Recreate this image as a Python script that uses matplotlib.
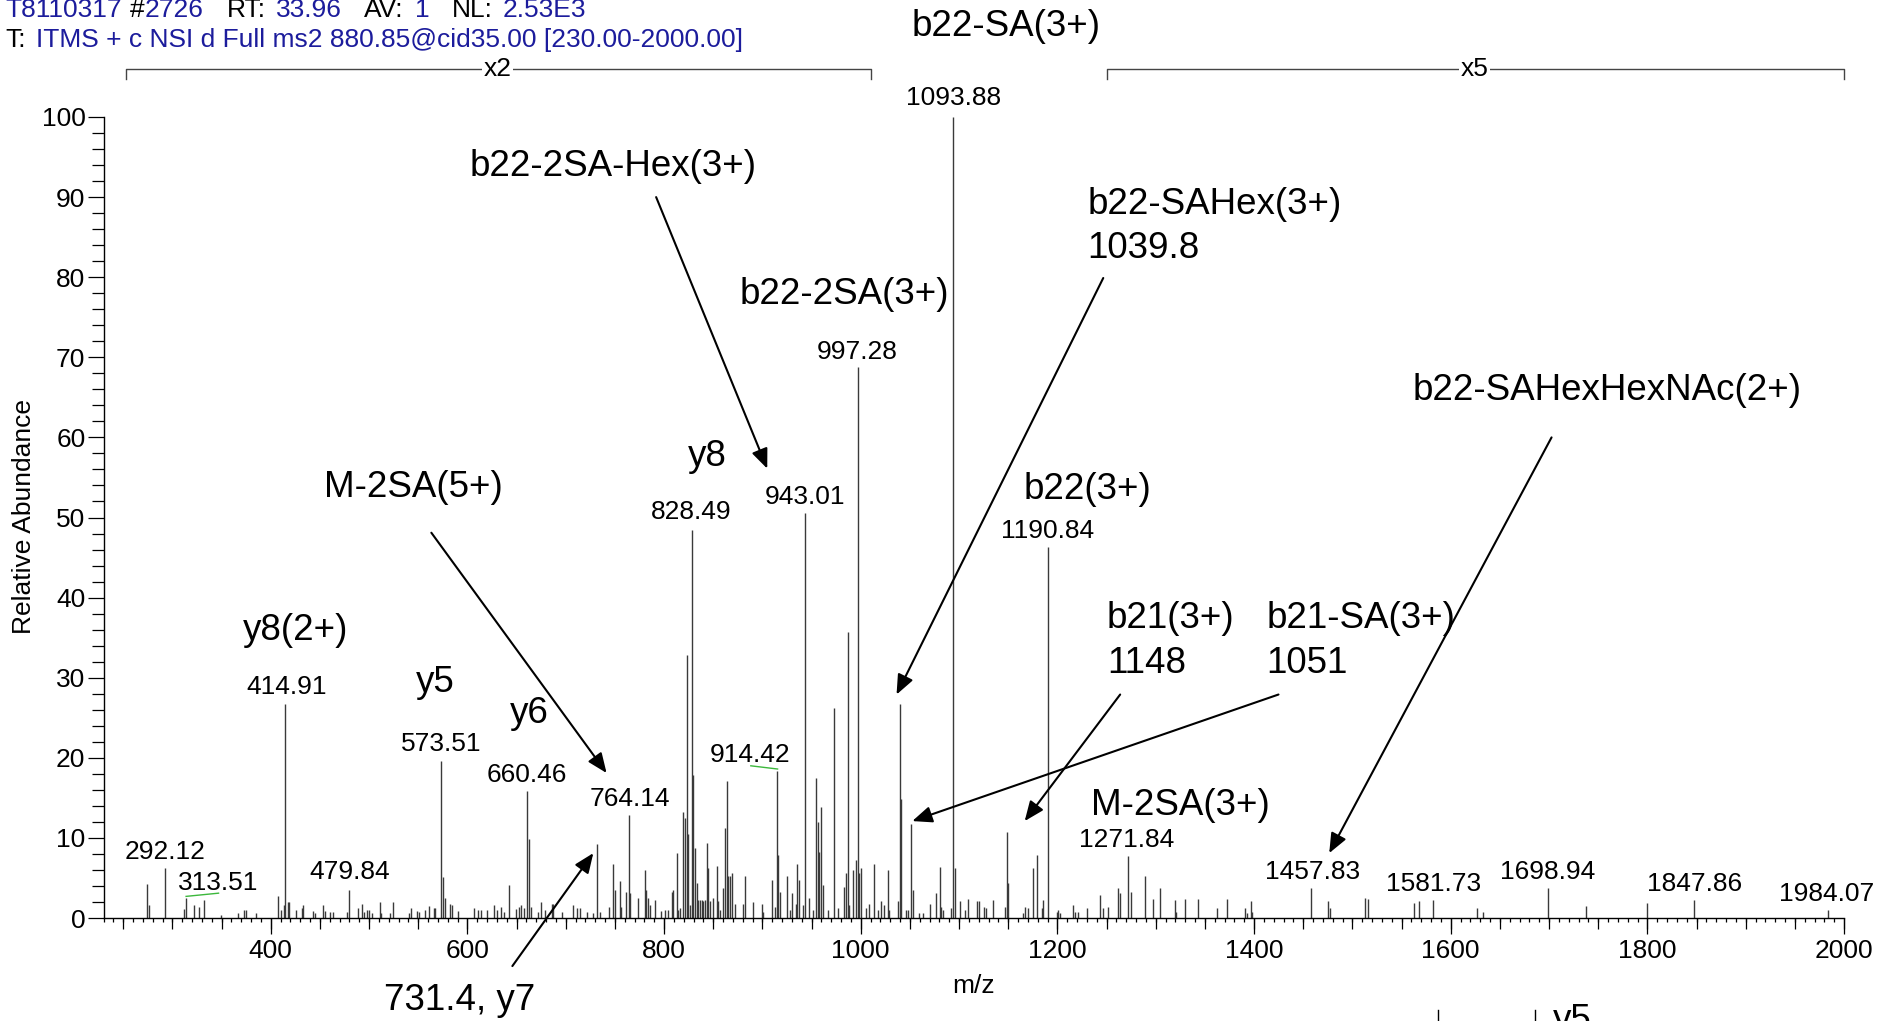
import matplotlib.pyplot as plt
from matplotlib.lines import Line2D
from matplotlib.ticker import MultipleLocator


plt.rcParams['font.family'] = ['Liberation Sans', 'DejaVu Sans']

# Peak list (m/z, relative abundance as displayed).
peak_mz = [
    274.5, 275.9, 292.12, 312.1, 313.51, 322.3, 327.4, 332.5, 349.4, 366.4,
    373.2, 374.9, 385.4, 407.1, 410.5, 413.9, 414.91, 417.3, 419.0, 426.1,
    431.5, 432.9, 443.4, 445.0, 453.6, 455.3, 460.4, 463.4, 477.3, 479.84,
    489.2, 492.6, 494.6, 498.0, 499.7, 503.1, 510.9, 512.6, 521.4, 524.4,
    540.3, 542.4, 548.8, 550.5, 557.3, 560.7, 565.8, 567.5, 573.51, 575.5,
    577.2, 582.6, 584.7, 590.8, 606.7, 611.1, 613.9, 620.3, 627.1, 630.5,
    633.9, 637.3, 642.7, 649.4, 652.8, 654.2, 657.6, 660.46, 663.0, 664.7,
    671.5, 675.4, 678.8, 685.6, 687.3, 695.8, 707.7, 711.1, 714.5, 721.3,
    728.1, 731.4, 734.8, 744.4, 748.1, 749.8, 754.9, 756.6, 761.6, 764.14,
    765.8, 773.8, 780.3, 782.0, 783.7, 785.4, 790.4, 797.2, 800.9, 804.3,
    807.8, 809.5, 812.9, 814.6, 816.3, 819.6, 821.3, 823.0, 824.7, 826.4,
    828.49, 829.8, 831.5, 833.2, 835.0, 836.7, 838.4, 840.1, 841.8, 843.4,
    845.1, 846.8, 850.2, 853.6, 855.3, 857.0, 860.4, 862.0, 863.6, 865.3,
    867.0, 868.8, 872.2, 880.7, 882.4, 890.9, 899.3, 901.0, 909.5, 912.9,
    914.42, 916.3, 918.3, 924.8, 928.2, 930.6, 934.0, 935.6, 937.6, 940.9,
    943.01, 947.7, 951.1, 954.5, 956.2, 957.9, 959.6, 961.3, 966.4, 972.8,
    976.6, 983.4, 985.1, 986.8, 988.5, 991.9, 995.3, 997.28, 998.7, 1000.4,
    1005.5, 1008.9, 1013.9, 1017.3, 1020.7, 1024.1, 1027.5, 1029.2, 1037.6, 1039.8,
    1041.0, 1046.1, 1047.8, 1051.2, 1052.9, 1059.6, 1063.0, 1070.2, 1076.9, 1080.3,
    1082.0, 1083.7, 1092.2, 1093.88, 1095.5, 1101.0, 1106.3, 1109.3, 1117.8, 1120.6,
    1125.9, 1127.9, 1134.6, 1146.8, 1148.5, 1150.2, 1165.4, 1167.1, 1170.5, 1175.6,
    1179.0, 1184.1, 1185.8, 1190.84, 1199.3, 1201.0, 1202.7, 1216.3, 1218.0, 1221.4,
    1229.9, 1243.4, 1246.7, 1251.8, 1262.0, 1263.7, 1271.84, 1275.2, 1288.8, 1297.3,
    1304.1, 1319.4, 1321.1, 1329.6, 1343.2, 1362.2, 1372.4, 1391.1, 1392.8, 1397.0,
    1398.0, 1457.83, 1475.5, 1477.0, 1512.7, 1516.3, 1563.0, 1567.6, 1581.73, 1626.5,
    1633.0, 1698.94, 1738.0, 1799.8, 1847.86, 1984.07,
]
peak_intensity = [
    4.2, 1.6, 6.2, 1.1, 2.5, 1.6, 1.4, 2.2, 0.4, 0.6,
    1.0, 1.0, 0.6, 2.7, 1.0, 1.6, 26.7, 2.0, 2.0, 1.0,
    1.2, 1.6, 0.9, 0.6, 1.6, 0.9, 0.7, 0.7, 0.7, 3.5,
    1.2, 1.8, 0.7, 1.0, 1.0, 0.6, 2.0, 0.6, 0.6, 2.0,
    0.6, 1.2, 0.9, 0.7, 1.0, 1.5, 1.2, 1.2, 19.6, 5.1,
    2.5, 1.8, 1.6, 0.9, 1.2, 1.0, 1.0, 1.0, 1.6, 1.0,
    1.4, 0.8, 4.1, 1.1, 1.4, 1.6, 1.2, 15.8, 9.9, 1.4,
    0.7, 2.0, 1.0, 1.8, 1.8, 0.8, 1.6, 1.2, 1.2, 0.8,
    0.6, 9.2, 0.8, 1.4, 6.7, 3.5, 4.6, 1.4, 3.3, 12.9,
    3.1, 2.5, 6.0, 3.5, 2.5, 1.6, 2.3, 0.9, 1.0, 1.0,
    3.3, 3.5, 8.1, 1.0, 1.2, 13.2, 12.5, 32.8, 10.5, 1.6,
    48.5, 17.9, 8.8, 4.4, 2.3, 2.2, 2.3, 2.1, 2.2, 9.4,
    6.2, 2.1, 2.5, 6.5, 2.1, 1.0, 3.7, 11.2, 17.1, 5.2,
    5.3, 5.6, 1.8, 1.8, 5.2, 2.0, 1.8, 0.8, 4.7, 1.4,
    18.4, 7.9, 3.3, 5.2, 1.0, 3.1, 1.8, 6.8, 4.7, 1.6,
    50.5, 2.5, 1.0, 17.5, 12.0, 8.3, 13.8, 4.1, 1.0, 26.2,
    1.2, 3.9, 5.6, 35.7, 1.6, 6.0, 7.3, 68.8, 5.6, 6.3,
    1.2, 1.8, 6.8, 1.0, 2.1, 1.6, 6.0, 1.0, 2.1, 26.7,
    14.8, 1.0, 1.0, 11.7, 3.5, 0.6, 0.6, 1.8, 3.1, 6.4,
    1.4, 1.0, 1.2, 100.0, 6.3, 2.1, 1.0, 2.4, 2.1, 2.1,
    1.4, 1.2, 2.2, 1.4, 10.7, 4.4, 0.6, 1.4, 1.2, 6.3,
    7.9, 1.2, 2.3, 46.3, 0.7, 1.0, 0.6, 1.6, 0.8, 0.8,
    1.2, 2.9, 1.2, 1.4, 3.7, 3.1, 7.7, 3.3, 5.2, 2.4,
    3.7, 2.2, 0.8, 2.4, 2.4, 1.2, 2.4, 1.2, 0.6, 2.1,
    0.8, 3.75, 2.1, 1.25, 2.5, 2.4, 1.9, 2.1, 2.3, 1.25,
    0.8, 3.75, 1.5, 1.9, 2.3, 1.0,
]

# Peak m/z labels: (text, x, y) in data units
peak_labels = [
    ("292.12", 293, 8.3), ("313.51", 347, 4.4), ("414.91", 416, 28.8),
    ("479.84", 480, 5.7), ("573.51", 573, 21.7), ("660.46", 660.5, 17.9),
    ("764.14", 765, 14.9), ("828.49", 827.6, 50.7), ("914.42", 888, 20.4),
    ("943.01", 943.2, 52.5), ("997.28", 996, 70.7), ("1093.88", 1094.3, 102.4),
    ("1190.84", 1190.2, 48.3), ("1271.84", 1270, 9.8), ("1457.83", 1459.3, 5.7),
    ("1581.73", 1582.2, 4.2), ("1698.94", 1698.9, 5.7), ("1847.86", 1847.6, 4.2),
    ("1984.07", 1982.8, 3.0),
]

# Fragment names without arrows: (text, x, y, ha)
ion_names = [
    ("b22-SA(3+)", 1148.4, 111.3, "center"),
    ("b22-2SA(3+)", 983.7, 77.8, "center"),
    ("y8", 843.6, 57.6, "center"),
    ("b22(3+)", 1230.7, 53.5, "center"),
    ("y8(2+)", 425.8, 35.9, "center"),
    ("y5", 567.1, 29.4, "center"),
    ("y6", 663.0, 25.5, "center"),
    ("M-2SA(3+)", 1325.3, 14.0, "center"),
    ("b22-SAHex(3+)\n1039.8", 1230.7, 86.3, "left"),
    ("b21(3+)\n1148", 1250.4, 34.6, "left"),
    ("b21-SA(3+)\n1051", 1412.6, 34.6, "left"),
]

# Arrowed annotations: (text, text_x, text_y, ha, arrow_start, arrow_end)
arrow_notes = [
    ("b22-2SA-Hex(3+)", 747.8, 93.8, "center", (792, 90.0), (905, 56.1)),
    ("b22-SAHexHexNAc(2+)", 1759.1, 65.9, "center", (1702.6, 60.0), (1476.5, 8.1)),
    ("M-2SA(5+)", 545.0, 53.8, "center", (563.4, 48.1), (741.6, 18.1)),
    ("731.4, y7", 591.7, -10.3, "center", (645.8, -6.0), (728.1, 8.1)),
    ("", 0, 0, "center", (1246.7, 79.9), (1036.5, 27.9)),
    ("", 0, 0, "center", (1263.9, 27.9), (1166.8, 12.1)),
    ("", 0, 0, "center", (1424.9, 27.9), (1052.5, 12.1)),
]

# Green label leader lines
leaders = [((314, 2.7), (347, 3.1)), ((888.3, 19.0), (915.5, 18.6))]

# Magnification brackets: (label, start, end, label position)
zoom_ranges = [("x2", 252.5, 1010.7, 631), ("x5", 1250.4, 2000, 1624)]

FIG_W, FIG_H = 1895, 1021
BLUE = "#1c1c9c"
TEXT_BIG = 26.5
TEXT_SMALL = 19

fig = plt.figure(figsize=(FIG_W / 100, FIG_H / 100), dpi=100)
ax = fig.add_axes([103.5 / FIG_W, 103 / FIG_H, 1740.5 / FIG_W, 801 / FIG_H])

ax.vlines(peak_mz, 0, peak_intensity, color="#3a3a3a", lw=1.0)
ax.set_xlim(230, 2000)
ax.set_ylim(0, 100)

for side in ["top", "right"]:
    ax.spines[side].set_visible(False)
ax.spines["left"].set_bounds(0, 100)
ax.spines["left"].set_linewidth(1.0)
ax.spines["bottom"].set_linewidth(1.0)

ax.yaxis.set_major_locator(MultipleLocator(10))
ax.yaxis.set_minor_locator(MultipleLocator(2))
ax.xaxis.set_major_locator(MultipleLocator(200))
ax.xaxis.set_minor_locator(MultipleLocator(10))
ax.tick_params(axis="y", which="major", length=11.5, width=0.9, pad=1.5, labelsize=TEXT_SMALL)
ax.tick_params(axis="y", which="minor", length=8.5, width=0.9)
ax.tick_params(axis="x", which="major", length=11.5, width=0.9, pad=3.5, labelsize=TEXT_SMALL)
ax.tick_params(axis="x", which="minor", length=3.2, width=0.9)

# medium ticks every 50 m/z
sec = ax.secondary_xaxis("bottom")
sec.set_xticks(list(range(250, 2001, 50)))
sec.tick_params(length=8, width=0.9, labelbottom=False)
sec.spines["bottom"].set_visible(False)

fig.text(24 / FIG_W, 1 - 517 / FIG_H, "Relative Abundance", rotation=90,
         ha="center", va="center", fontsize=TEXT_SMALL)
fig.text(974 / FIG_W, 1 - 986 / FIG_H, "m/z", ha="center", va="center", fontsize=TEXT_SMALL)

for text, x, y in peak_labels:
    ax.text(x, y, text, ha="center", va="center", fontsize=TEXT_SMALL, clip_on=False)

for text, x, y, ha in ion_names:
    ax.text(x, y, text, ha=ha, va="center", fontsize=TEXT_BIG, clip_on=False,
            linespacing=1.35)

for text, tx, ty, ha, start, end in arrow_notes:
    if text:
        ax.text(tx, ty, text, ha=ha, va="center", fontsize=TEXT_BIG, clip_on=False)
    ax.annotate("", xy=end, xytext=start, annotation_clip=False,
                arrowprops=dict(arrowstyle="-|>,head_length=0.6,head_width=0.25",
                                mutation_scale=20, lw=1.5, color="black",
                                shrinkA=0, shrinkB=0))

for (x0, y0), (x1, y1) in leaders:
    ax.plot([x0, x1], [y0, y1], color="#3cb83c", lw=1.0, clip_on=False)

for label, start, end, label_x in zoom_ranges:
    ax.plot([start, start, end, end], [104.7, 106.0, 106.0, 104.7],
            color="#444444", lw=1.0, clip_on=False)
    ax.text(label_x, 106.0, label, ha="center", va="center", fontsize=TEXT_SMALL,
            clip_on=False, zorder=5, bbox=dict(fc="white", ec="none", pad=1))

# instrument header, black and blue pieces placed by pixel
header_1 = [("T8110317", 5, BLUE), ("#", 130, "black"), ("2726", 145, BLUE),
            ("RT:", 227, "black"), ("33.96", 276, BLUE), ("AV:", 364, "black"),
            ("1", 415, BLUE), ("NL:", 451.5, "black"), ("2.53E3", 503, BLUE)]
header_2 = [("T:", 5, "black"),
            ("ITMS + c NSI d Full ms2 880.85@cid35.00 [230.00-2000.00]", 36, BLUE)]
for pieces, base in [(header_1, 17), (header_2, 47)]:
    for text, px, color in pieces:
        fig.text(px / FIG_W, 1 - base / FIG_H, text, color=color, ha="left",
                 va="baseline", fontsize=TEXT_SMALL)

# pieces of the next panel cut off at the bottom edge
fig.text(1553 / FIG_W, 1 - 1003 / FIG_H, "y5", ha="left", va="top", fontsize=TEXT_BIG)
for px in [1438, 1534.5]:
    fig.add_artist(Line2D([px / FIG_W, px / FIG_W], [0, 11 / FIG_H], color="black", lw=1.0))

fig.savefig("out.png", dpi=100)
